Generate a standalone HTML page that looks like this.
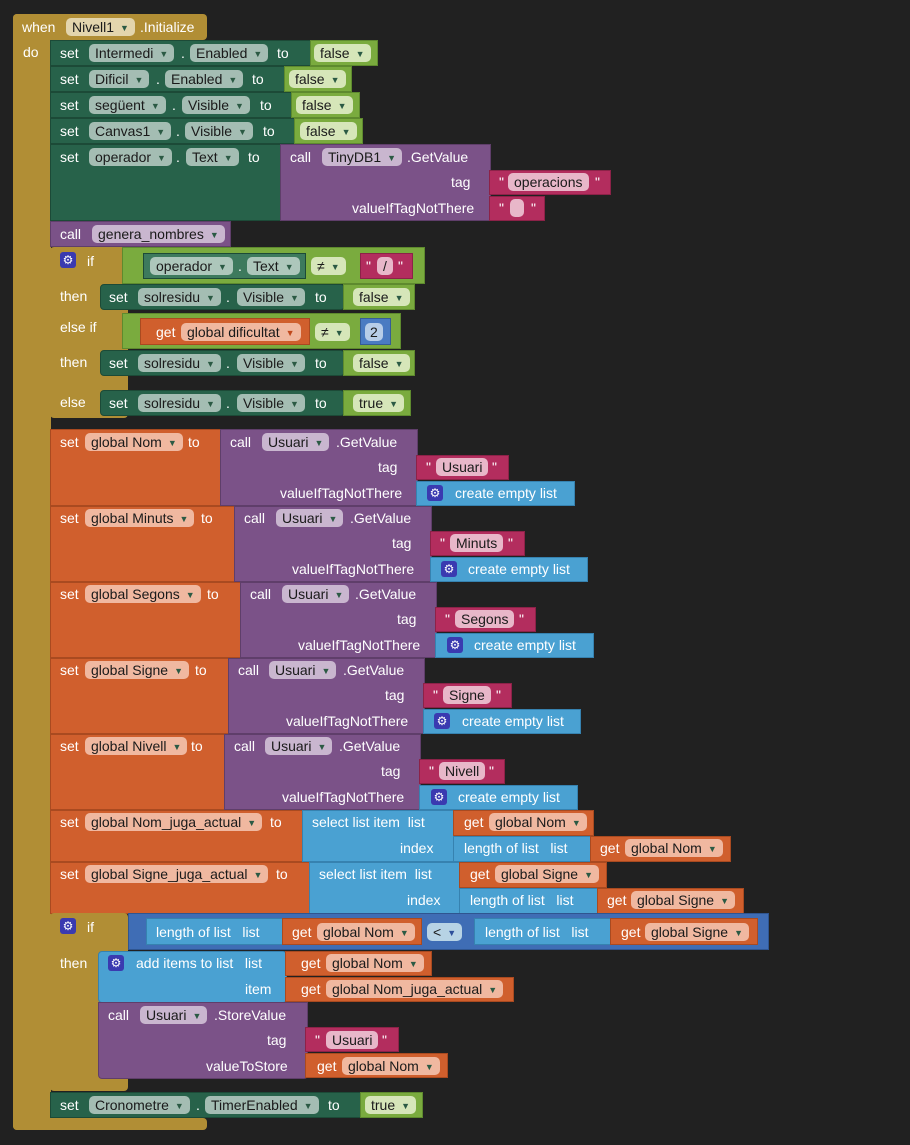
<!DOCTYPE html>
<html><head><meta charset="utf-8"><style>
body{margin:0;width:910px;height:1145px;background:#212121;position:relative;overflow:hidden;font-family:"Liberation Sans",sans-serif;font-size:14px}
div,span{position:absolute;box-sizing:border-box}
.g{background:#b18e35;border-radius:4px}
.dg{background:#27624a;border:1px solid #1c4a37}
.lg{background:#7aab3e;border:1px solid #5e8a2e}
.pu{background:#7b5288;border:1px solid #5f3e6a}
.or{background:#d05f2d;border:1px solid #a94a20}
.mg{background:#b32d5e;border:1px solid #8c2248}
.lb{background:#4aa1d2;border:1px solid #3682b0}
.bb{background:#3f6db5;border:1px solid #2f5590}
.nb{background:#4a7bc2;border:1px solid #355c96}
.t{color:#fff;line-height:20px;white-space:nowrap}
.f{height:18px;line-height:18px;border-radius:5px;color:#1a1a1a;padding:0 6px;white-space:nowrap;background:rgba(255,255,255,.58)}
.f i{font-style:normal;font-size:9px;color:#2b5a44;margin-left:6px;vertical-align:1px}
.or .f i,.f.o i{color:#c0481c}
.gear{width:16px;height:16px;background:#3a3ab0;border-radius:3px;color:#fff;font-size:12px;line-height:16px;text-align:center}
</style></head><body>

<!-- event -->
<div class="g" style="left:13px;top:14px;width:194px;height:26px"></div>
<div class="g" style="left:13px;top:14px;width:38px;height:1116px"></div>
<div class="g" style="left:13px;top:1118px;width:194px;height:12px"></div>
<span class="t" style="left:22px;top:17px">when</span>
<span class="f" style="left:66px;top:18px;background:#e3d5ad">Nivell1<i>▼</i></span>
<span class="t" style="left:140px;top:17px">.Initialize</span>
<span class="t" style="left:23px;top:42px">do</span>

<!-- set rows -->
<div class="dg" style="left:50px;top:40px;width:262px;height:26px"></div>
<span class="t" style="left:60px;top:43px">set</span>
<span class="f" style="left:89px;top:44px">Intermedi<i>▼</i></span><span class="t" style="left:181px;top:43px">.</span>
<span class="f" style="left:190px;top:44px">Enabled<i>▼</i></span><span class="t" style="left:277px;top:43px">to</span>
<div class="lg" style="left:310px;top:40px;width:68px;height:26px"></div><span class="f" style="left:314px;top:44px;background:#d6e6b9">false<i>▼</i></span>

<div class="dg" style="left:50px;top:66px;width:235px;height:26px"></div>
<span class="t" style="left:60px;top:69px">set</span>
<span class="f" style="left:89px;top:70px">Dificil<i>▼</i></span><span class="t" style="left:156px;top:69px">.</span>
<span class="f" style="left:165px;top:70px">Enabled<i>▼</i></span><span class="t" style="left:252px;top:69px">to</span>
<div class="lg" style="left:284px;top:66px;width:68px;height:26px"></div><span class="f" style="left:289px;top:70px;background:#d6e6b9">false<i>▼</i></span>

<div class="dg" style="left:50px;top:92px;width:242px;height:26px"></div>
<span class="t" style="left:60px;top:95px">set</span>
<span class="f" style="left:89px;top:96px">següent<i>▼</i></span><span class="t" style="left:172px;top:95px">.</span>
<span class="f" style="left:182px;top:96px">Visible<i>▼</i></span><span class="t" style="left:260px;top:95px">to</span>
<div class="lg" style="left:291px;top:92px;width:69px;height:26px"></div><span class="f" style="left:296px;top:96px;background:#d6e6b9">false<i>▼</i></span>

<div class="dg" style="left:50px;top:118px;width:245px;height:26px"></div>
<span class="t" style="left:60px;top:121px">set</span>
<span class="f" style="left:89px;top:122px">Canvas1<i>▼</i></span><span class="t" style="left:176px;top:121px">.</span>
<span class="f" style="left:185px;top:122px">Visible<i>▼</i></span><span class="t" style="left:263px;top:121px">to</span>
<div class="lg" style="left:294px;top:118px;width:69px;height:26px"></div><span class="f" style="left:300px;top:122px;background:#d6e6b9">false<i>▼</i></span>

<div class="dg" style="left:50px;top:144px;width:232px;height:77px"></div>
<span class="t" style="left:60px;top:147px">set</span>
<span class="f" style="left:89px;top:148px">operador<i>▼</i></span><span class="t" style="left:176px;top:147px">.</span>
<span class="f" style="left:186px;top:148px">Text<i>▼</i></span><span class="t" style="left:248px;top:147px">to</span>
<div class="pu" style="left:280px;top:144px;width:211px;height:77px"></div>
<span class="t" style="left:290px;top:147px">call</span>
<span class="f" style="left:322px;top:148px;background:#c9b6cf">TinyDB1<i>▼</i></span>
<span class="t" style="left:407px;top:147px">.GetValue</span>
<span class="t" style="left:451px;top:172px">tag</span>
<span class="t" style="left:352px;top:198px">valueIfTagNotThere</span>
<div class="mg" style="left:489px;top:170px;width:122px;height:25px"></div>
<span class="t" style="left:499px;top:172px">"</span><span class="f" style="left:508px;top:173px;background:#e8b7c9">operacions</span><span class="t" style="left:595px;top:172px">"</span>
<div class="mg" style="left:489px;top:196px;width:56px;height:25px"></div>
<span class="t" style="left:499px;top:198px">"</span><span class="f" style="left:510px;top:199px;width:14px;background:#e8b7c9"></span><span class="t" style="left:531px;top:198px">"</span>

<div class="pu" style="left:50px;top:221px;width:181px;height:26px"></div>
<span class="t" style="left:60px;top:224px">call</span>
<span class="f" style="left:92px;top:225px;background:#c9b6cf">genera_nombres<i>▼</i></span>

<!-- if 1 -->
<div class="g" style="left:50px;top:247px;width:78px;height:171px"></div>
<div class="gear" style="left:60px;top:252px">⚙</div>
<span class="t" style="left:87px;top:251px">if</span>
<span class="t" style="left:60px;top:286px">then</span>
<span class="t" style="left:60px;top:317px">else if</span>
<span class="t" style="left:60px;top:352px">then</span>
<span class="t" style="left:60px;top:392px">else</span>
<div class="lg" style="left:122px;top:247px;width:303px;height:37px"></div>
<div class="dg" style="left:143px;top:253px;width:163px;height:26px;background:#3d7a5d"></div>
<span class="f" style="left:150px;top:257px">operador<i>▼</i></span><span class="t" style="left:238px;top:256px">.</span>
<span class="f" style="left:247px;top:257px">Text<i>▼</i></span>
<span class="f" style="left:311px;top:257px;background:#d6e6b9">≠<i>▼</i></span>
<div class="mg" style="left:360px;top:253px;width:53px;height:26px"></div>
<span class="t" style="left:366px;top:256px">"</span><span class="f" style="left:377px;top:257px;background:#e8b7c9">/</span><span class="t" style="left:398px;top:256px">"</span>

<div class="dg" style="left:100px;top:284px;width:245px;height:26px;border-radius:4px"></div>
<span class="t" style="left:109px;top:287px">set</span>
<span class="f" style="left:138px;top:288px">solresidu<i>▼</i></span><span class="t" style="left:226px;top:287px">.</span>
<span class="f" style="left:237px;top:288px">Visible<i>▼</i></span><span class="t" style="left:315px;top:287px">to</span>
<div class="lg" style="left:343px;top:284px;width:72px;height:26px"></div><span class="f" style="left:353px;top:288px;background:#d6e6b9">false<i>▼</i></span>

<div class="lg" style="left:122px;top:313px;width:279px;height:36px"></div>
<div class="or" style="left:140px;top:318px;width:170px;height:27px"></div>
<span class="t" style="left:156px;top:322px">get</span>
<span class="f o" style="left:181px;top:323px;background:#f0b8a0">global dificultat<i>▼</i></span>
<span class="f" style="left:315px;top:323px;background:#d6e6b9">≠<i>▼</i></span>
<div class="nb" style="left:360px;top:318px;width:31px;height:27px"></div>
<span class="f" style="left:365px;top:323px;background:#b7cde8;padding:0 5px">2</span>

<div class="dg" style="left:100px;top:350px;width:245px;height:26px;border-radius:4px"></div>
<span class="t" style="left:109px;top:353px">set</span>
<span class="f" style="left:138px;top:354px">solresidu<i>▼</i></span><span class="t" style="left:226px;top:353px">.</span>
<span class="f" style="left:237px;top:354px">Visible<i>▼</i></span><span class="t" style="left:315px;top:353px">to</span>
<div class="lg" style="left:343px;top:350px;width:72px;height:26px"></div><span class="f" style="left:353px;top:354px;background:#d6e6b9">false<i>▼</i></span>

<div class="dg" style="left:100px;top:390px;width:245px;height:26px;border-radius:4px"></div>
<span class="t" style="left:109px;top:393px">set</span>
<span class="f" style="left:138px;top:394px">solresidu<i>▼</i></span><span class="t" style="left:226px;top:393px">.</span>
<span class="f" style="left:237px;top:394px">Visible<i>▼</i></span><span class="t" style="left:315px;top:393px">to</span>
<div class="lg" style="left:343px;top:390px;width:68px;height:26px"></div><span class="f" style="left:353px;top:394px;background:#d6e6b9">true<i>▼</i></span>

<!-- global setters -->
<div class="or" style="left:50px;top:429px;width:172px;height:77px"></div>
<span class="t" style="left:60px;top:432px">set</span><span class="f" style="left:85px;top:433px;background:#f0b8a0">global Nom<i>▼</i></span><span class="t" style="left:188px;top:432px">to</span>
<div class="pu" style="left:220px;top:429px;width:198px;height:77px"></div>
<span class="t" style="left:230px;top:432px">call</span><span class="f" style="left:262px;top:433px;background:#c9b6cf">Usuari<i>▼</i></span><span class="t" style="left:336px;top:432px">.GetValue</span>
<span class="t" style="left:378px;top:457px">tag</span><span class="t" style="left:280px;top:483px">valueIfTagNotThere</span>
<div class="mg" style="left:416px;top:455px;width:93px;height:25px"></div>
<span class="t" style="left:426px;top:457px">"</span><span class="f" style="left:436px;top:458px;background:#e8b7c9">Usuari</span><span class="t" style="left:492px;top:457px">"</span>
<div class="lb" style="left:416px;top:481px;width:159px;height:25px"></div>
<div class="gear" style="left:427px;top:485px">⚙</div><span class="t" style="left:455px;top:483px">create empty list</span>

<div class="or" style="left:50px;top:506px;width:186px;height:76px"></div>
<span class="t" style="left:60px;top:508px">set</span><span class="f" style="left:85px;top:509px;background:#f0b8a0">global Minuts<i>▼</i></span><span class="t" style="left:201px;top:508px">to</span>
<div class="pu" style="left:234px;top:506px;width:198px;height:76px"></div>
<span class="t" style="left:244px;top:508px">call</span><span class="f" style="left:276px;top:509px;background:#c9b6cf">Usuari<i>▼</i></span><span class="t" style="left:350px;top:508px">.GetValue</span>
<span class="t" style="left:392px;top:533px">tag</span><span class="t" style="left:292px;top:559px">valueIfTagNotThere</span>
<div class="mg" style="left:430px;top:531px;width:95px;height:25px"></div>
<span class="t" style="left:440px;top:533px">"</span><span class="f" style="left:450px;top:534px;background:#e8b7c9">Minuts</span><span class="t" style="left:508px;top:533px">"</span>
<div class="lb" style="left:430px;top:557px;width:158px;height:25px"></div>
<div class="gear" style="left:441px;top:561px">⚙</div><span class="t" style="left:468px;top:559px">create empty list</span>

<div class="or" style="left:50px;top:582px;width:192px;height:76px"></div>
<span class="t" style="left:60px;top:584px">set</span><span class="f" style="left:85px;top:585px;background:#f0b8a0">global Segons<i>▼</i></span><span class="t" style="left:207px;top:584px">to</span>
<div class="pu" style="left:240px;top:582px;width:197px;height:76px"></div>
<span class="t" style="left:250px;top:584px">call</span><span class="f" style="left:282px;top:585px;background:#c9b6cf">Usuari<i>▼</i></span><span class="t" style="left:355px;top:584px">.GetValue</span>
<span class="t" style="left:397px;top:609px">tag</span><span class="t" style="left:298px;top:635px">valueIfTagNotThere</span>
<div class="mg" style="left:435px;top:607px;width:101px;height:25px"></div>
<span class="t" style="left:445px;top:609px">"</span><span class="f" style="left:455px;top:610px;background:#e8b7c9">Segons</span><span class="t" style="left:519px;top:609px">"</span>
<div class="lb" style="left:435px;top:633px;width:159px;height:25px"></div>
<div class="gear" style="left:447px;top:637px">⚙</div><span class="t" style="left:474px;top:635px">create empty list</span>

<div class="or" style="left:50px;top:658px;width:180px;height:76px"></div>
<span class="t" style="left:60px;top:660px">set</span><span class="f" style="left:85px;top:661px;background:#f0b8a0">global Signe<i>▼</i></span><span class="t" style="left:195px;top:660px">to</span>
<div class="pu" style="left:228px;top:658px;width:197px;height:76px"></div>
<span class="t" style="left:238px;top:660px">call</span><span class="f" style="left:269px;top:661px;background:#c9b6cf">Usuari<i>▼</i></span><span class="t" style="left:343px;top:660px">.GetValue</span>
<span class="t" style="left:385px;top:685px">tag</span><span class="t" style="left:286px;top:711px">valueIfTagNotThere</span>
<div class="mg" style="left:423px;top:683px;width:89px;height:25px"></div>
<span class="t" style="left:433px;top:685px">"</span><span class="f" style="left:443px;top:686px;background:#e8b7c9">Signe</span><span class="t" style="left:496px;top:685px">"</span>
<div class="lb" style="left:423px;top:709px;width:158px;height:25px"></div>
<div class="gear" style="left:434px;top:713px">⚙</div><span class="t" style="left:462px;top:711px">create empty list</span>

<div class="or" style="left:50px;top:734px;width:176px;height:76px"></div>
<span class="t" style="left:60px;top:736px">set</span><span class="f" style="left:85px;top:737px;background:#f0b8a0">global Nivell<i>▼</i></span><span class="t" style="left:191px;top:736px">to</span>
<div class="pu" style="left:224px;top:734px;width:197px;height:76px"></div>
<span class="t" style="left:234px;top:736px">call</span><span class="f" style="left:265px;top:737px;background:#c9b6cf">Usuari<i>▼</i></span><span class="t" style="left:339px;top:736px">.GetValue</span>
<span class="t" style="left:381px;top:761px">tag</span><span class="t" style="left:282px;top:787px">valueIfTagNotThere</span>
<div class="mg" style="left:419px;top:759px;width:86px;height:25px"></div>
<span class="t" style="left:429px;top:761px">"</span><span class="f" style="left:439px;top:762px;background:#e8b7c9">Nivell</span><span class="t" style="left:489px;top:761px">"</span>
<div class="lb" style="left:419px;top:785px;width:159px;height:25px"></div>
<div class="gear" style="left:431px;top:789px">⚙</div><span class="t" style="left:458px;top:787px">create empty list</span>

<!-- select list item -->
<div class="or" style="left:50px;top:810px;width:254px;height:52px"></div>
<span class="t" style="left:60px;top:812px">set</span><span class="f" style="left:85px;top:813px;background:#f0b8a0">global Nom_juga_actual<i>▼</i></span><span class="t" style="left:270px;top:812px">to</span>
<div class="lb" style="left:302px;top:810px;width:153px;height:52px"></div>
<span class="t" style="left:312px;top:812px">select list item&nbsp; list</span>
<span class="t" style="left:400px;top:838px">index</span>
<div class="or" style="left:453px;top:810px;width:141px;height:26px"></div>
<span class="t" style="left:464px;top:812px">get</span><span class="f" style="left:489px;top:813px;background:#f0b8a0">global Nom<i>▼</i></span>
<div class="lb" style="left:453px;top:836px;width:139px;height:26px"></div>
<span class="t" style="left:464px;top:838px">length of list&nbsp;&nbsp; list</span>
<div class="or" style="left:590px;top:836px;width:141px;height:26px"></div>
<span class="t" style="left:600px;top:838px">get</span><span class="f" style="left:625px;top:839px;background:#f0b8a0">global Nom<i>▼</i></span>

<div class="or" style="left:50px;top:862px;width:261px;height:52px"></div>
<span class="t" style="left:60px;top:864px">set</span><span class="f" style="left:85px;top:865px;background:#f0b8a0">global Signe_juga_actual<i>▼</i></span><span class="t" style="left:276px;top:864px">to</span>
<div class="lb" style="left:309px;top:862px;width:152px;height:52px"></div>
<span class="t" style="left:319px;top:864px">select list item&nbsp; list</span>
<span class="t" style="left:407px;top:890px">index</span>
<div class="or" style="left:459px;top:862px;width:148px;height:26px"></div>
<span class="t" style="left:470px;top:864px">get</span><span class="f" style="left:495px;top:865px;background:#f0b8a0">global Signe<i>▼</i></span>
<div class="lb" style="left:459px;top:888px;width:140px;height:26px"></div>
<span class="t" style="left:470px;top:890px">length of list&nbsp;&nbsp; list</span>
<div class="or" style="left:597px;top:888px;width:147px;height:26px"></div>
<span class="t" style="left:607px;top:890px">get</span><span class="f" style="left:631px;top:891px;background:#f0b8a0">global Signe<i>▼</i></span>

<!-- if 2 -->
<div class="g" style="left:50px;top:913px;width:78px;height:178px"></div>
<div class="gear" style="left:60px;top:918px">⚙</div>
<span class="t" style="left:87px;top:917px">if</span>
<span class="t" style="left:60px;top:953px">then</span>
<div class="bb" style="left:128px;top:913px;width:641px;height:37px"></div>
<div class="lb" style="left:146px;top:918px;width:138px;height:27px"></div>
<span class="t" style="left:156px;top:922px">length of list&nbsp;&nbsp; list</span>
<div class="or" style="left:282px;top:918px;width:140px;height:27px"></div>
<span class="t" style="left:292px;top:922px">get</span><span class="f" style="left:317px;top:923px;background:#f0b8a0">global Nom<i>▼</i></span>
<span class="f" style="left:427px;top:923px;background:#b7d3e5">&lt;<i style="color:#2d4f9a">▼</i></span>
<div class="lb" style="left:474px;top:918px;width:138px;height:27px"></div>
<span class="t" style="left:485px;top:922px">length of list&nbsp;&nbsp; list</span>
<div class="or" style="left:610px;top:918px;width:148px;height:27px"></div>
<span class="t" style="left:621px;top:922px">get</span><span class="f" style="left:645px;top:923px;background:#f0b8a0">global Signe<i>▼</i></span>

<div class="lb" style="left:98px;top:951px;width:189px;height:52px;border-radius:4px"></div>
<div class="gear" style="left:108px;top:955px">⚙</div>
<span class="t" style="left:136px;top:953px">add items to list&nbsp;&nbsp; list</span>
<span class="t" style="left:245px;top:979px">item</span>
<div class="or" style="left:285px;top:951px;width:147px;height:25px"></div>
<span class="t" style="left:301px;top:953px">get</span><span class="f" style="left:326px;top:954px;background:#f0b8a0">global Nom<i>▼</i></span>
<div class="or" style="left:285px;top:977px;width:229px;height:25px"></div>
<span class="t" style="left:301px;top:979px">get</span><span class="f" style="left:326px;top:980px;background:#f0b8a0">global Nom_juga_actual<i>▼</i></span>

<div class="pu" style="left:98px;top:1002px;width:210px;height:77px;border-radius:0 0 4px 4px"></div>
<span class="t" style="left:108px;top:1005px">call</span><span class="f" style="left:140px;top:1006px;background:#c9b6cf">Usuari<i>▼</i></span><span class="t" style="left:214px;top:1005px">.StoreValue</span>
<span class="t" style="left:267px;top:1030px">tag</span><span class="t" style="left:206px;top:1056px">valueToStore</span>
<div class="mg" style="left:305px;top:1027px;width:94px;height:25px"></div>
<span class="t" style="left:315px;top:1030px">"</span><span class="f" style="left:326px;top:1031px;background:#e8b7c9">Usuari</span><span class="t" style="left:382px;top:1030px">"</span>
<div class="or" style="left:305px;top:1053px;width:143px;height:25px"></div>
<span class="t" style="left:317px;top:1056px">get</span><span class="f" style="left:342px;top:1057px;background:#f0b8a0">global Nom<i>▼</i></span>

<div class="dg" style="left:50px;top:1092px;width:312px;height:26px"></div>
<span class="t" style="left:60px;top:1095px">set</span>
<span class="f" style="left:89px;top:1096px">Cronometre<i>▼</i></span><span class="t" style="left:196px;top:1095px">.</span>
<span class="f" style="left:205px;top:1096px">TimerEnabled<i>▼</i></span><span class="t" style="left:328px;top:1095px">to</span>
<div class="lg" style="left:360px;top:1092px;width:63px;height:26px"></div><span class="f" style="left:365px;top:1096px;background:#d6e6b9">true<i>▼</i></span>
</body></html>
